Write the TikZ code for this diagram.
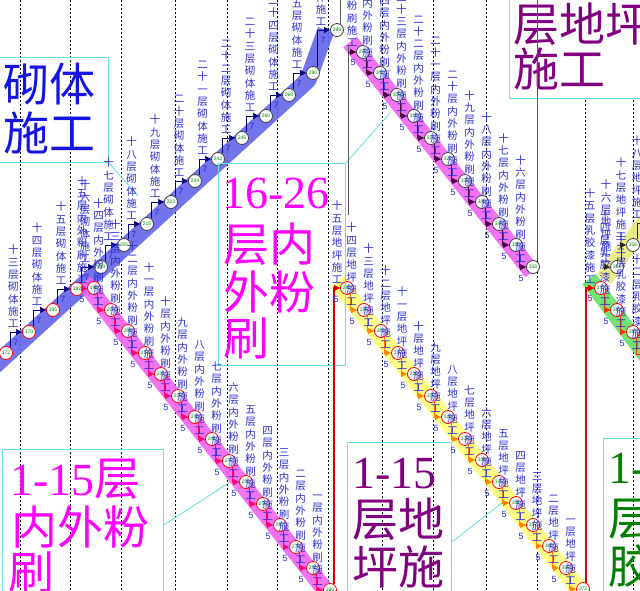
\documentclass[tikz,border=0pt]{standalone}
\usepackage{fontspec}
\setmainfont{Liberation Sans}
\newfontfamily\cjk{Noto Sans CJK SC}
\newfontfamily\lserif{Liberation Serif}
\usetikzlibrary{calc,arrows.meta,backgrounds}
\makeatletter
\newcommand\vstack[1]{%
  \edef\vs@arg{#1}%
  \gdef\vs@out{}%
  \expandafter\vs@loop\vs@arg\@nil
  \vs@out}
\def\vs@loop#1{\ifx#1\@nil\else
   \ifx\vs@out\@empty\else\g@addto@macro\vs@out{\\}\fi
   \g@addto@macro\vs@out{#1}\expandafter\vs@loop\fi}
\makeatother
\definecolor{bandB}{RGB}{100,100,235}
\definecolor{bandM}{RGB}{240,100,240}
\definecolor{bandY}{RGB}{255,255,120}
\definecolor{bandY2}{RGB}{235,235,120}
\definecolor{bandG}{RGB}{100,225,100}
\definecolor{actblue}{RGB}{45,45,210}
\definecolor{navy}{RGB}{0,0,128}
\definecolor{pinkred}{RGB}{255,0,110}
\definecolor{darkpur}{RGB}{70,0,70}
\definecolor{orng}{RGB}{255,130,0}
\definecolor{grnarrow}{RGB}{235,50,0}
\definecolor{evnum}{RGB}{0,130,0}
\definecolor{boxcyan}{RGB}{100,225,225}
\definecolor{txtmag}{RGB}{255,0,255}
\definecolor{txtpur}{RGB}{128,0,128}
\definecolor{txtgrn}{RGB}{0,128,0}
\definecolor{critred}{RGB}{225,0,0}
\definecolor{txtblue}{RGB}{20,20,230}
\tikzset{
 ev/.style={circle, fill=white, line width=0.8pt, minimum size=13pt, inner sep=0pt, font=\fontsize{5}{5}\selectfont, text=evnum},
 evr/.style={ev, draw=red},
 evk/.style={ev, draw=black!75},
 act/.style={inner sep=0pt, align=center, text=actblue, font=\cjk\fontsize{10.5}{12.3}\selectfont, anchor=south},
 dur/.style={inner sep=0pt, text=actblue, font=\fontsize{9}{9}\selectfont},
 conn/.style={line width=0.6pt, -{Triangle[length=6pt,width=6pt]}},
 band/.style={line width=17pt, line cap=butt, line join=round, draw opacity=0.9},
 gridln/.style={line width=0.5pt, dash pattern=on 2pt off 2pt, black},
 cbox/.style={draw=boxcyan, line width=0.8pt, inner sep=0pt, anchor=north west},
 lead/.style={draw=boxcyan, line width=0.8pt},
 crit/.style={draw=critred, line width=1.8pt, -{Triangle[length=6pt,width=6pt]}},
 grayl/.style={draw=black!65, line width=0.7pt},
 bigt/.style={inner sep=0pt, anchor=base west, font=\fontsize{46}{48}\selectfont},
}
\begin{document}
\begin{tikzpicture}[x=1pt,y=-1pt]
\useasboundingbox (0,0) rectangle (640,591);

% ---------------- event nodes ----------------
\foreach \n/\x/\y/\s in {172/6/353/evr,179/29/332/evr,185/53/310/evr,192/77/289/evr,199/101/267/evk,205/124/245/evk,215/147/224/evk,222/171/202/evk,234/195/181/evk,242/218/159/evk,249/242/138/evk,260/266/116/evk,269/289/95/evk,280/313/73/evk,289/337/30/evk}
  \node[\s] (b\n) at (\x,\y) {\n};
\foreach \n/\x/\y in {198/94/288,204/111/310,209/128/331,214/145/353,221/161/374,228/178/396,235/195/417,241/212/439,247/229/461,253/246/482,259/263/504,267/280/525,274/296/547,281/313/568,286/330/590}
  \node[evr] (m\n) at (\x,\y) {\n};
\foreach \n/\x/\y in {297/363/52,302/380/73,309/397/95,315/414/116,321/431/138,327/448/159,332/465/181,338/482/202,344/499/224,350/516/245,356/533/267}
  \node[evk] (u\n) at (\x,\y) {\n};
\foreach \n/\x/\y in {292/347/288,298/364/310,303/381/331,310/398/353,316/414/374,322/431/396,328/448/417,333/465/439,339/482/460,345/499/482,351/516/503,357/533/525,362/549/546,367/566/568,372/583/589}
  \node[evr] (y\n) at (\x,\y) {\n};
\foreach \n/\x/\y in {377/601/288,382/617/310,387/633/332}
  \node[evr] (g\n) at (\x,\y) {\n};
\node[evk] (v351) at (617,267) {351};
\node[evk] (v356) at (633,245) {356};

\coordinate (s3) at (348,52);
\coordinate (s6) at (603,267);
\coordinate (g393) at (650,354);
\coordinate (v362) at (650,223);
\coordinate (t1) at (340,0);
\coordinate (t2) at (537,0);
\coordinate (s3top) at (348,45);
\coordinate (s3bot) at (348,215);

% ---------------- callout boxes ----------------
\node[cbox, minimum width=110pt, minimum height=105pt] (box1) at (-2,57) {};
\node[cbox, minimum width=127pt, minimum height=202pt] (box2) at (218,163) {};
\node[cbox, minimum width=161pt, minimum height=160pt] (box3) at (2,449) {};
\node[cbox, minimum width=104pt, minimum height=160pt] (box4) at (347,442) {};
\node[cbox, minimum width=60pt, minimum height=165pt] (box5) at (603,438) {};
\node[cbox, fill=white, minimum width=150pt, minimum height=110pt] (box6) at (509,-12) {};

\node[bigt, text=txtblue] (t1a) at (3,102) {\cjk 砌体};
\node[bigt, text=txtblue] (t1b) at (3,150) {\cjk 施工};
\node[bigt, text=txtmag] (t2a) at (222,208) {\lserif 16-26};
\node[bigt, text=txtmag] (t2b) at (223,261) {\cjk 层内};
\node[bigt, text=txtmag] (t2c) at (223,309) {\cjk 外粉};
\node[bigt, text=txtmag] (t2d) at (223,355) {\cjk 刷};
\node[bigt, text=txtmag] (t3a) at (10,495) {{\lserif 1-15}{\cjk 层}};
\node[bigt, text=txtmag] (t3b) at (11,544) {\cjk 内外粉};
\node[bigt, text=txtmag] (t3c) at (8,589) {\cjk 刷};
\node[bigt, text=txtpur] (t4a) at (352,488) {\lserif 1-15};
\node[bigt, text=txtpur] (t4b) at (352,536) {\cjk 层地};
\node[bigt, text=txtpur] (t4c) at (352,584) {\cjk 坪施};
\node[bigt, text=txtgrn] (t5a) at (608,483) {\lserif 1-15};
\node[bigt, text=txtgrn] (t5b) at (608,535) {\cjk 层乳};
\node[bigt, text=txtgrn] (t5c) at (608,583) {\cjk 胶漆};
\node[bigt, text=txtpur] (t6a) at (513,42) {\cjk 层地坪};
\node[bigt, text=txtpur] (t6b) at (513,87) {\cjk 施工};

\coordinate (ld1) at (138,196);
\coordinate (ld2) at (390,113);
\coordinate (ld3) at (230,482);
\coordinate (ld4) at (502,503);
\draw[lead] (box1.south east) -- (ld1);
\draw[lead] (box2.north east) -- (ld2);
\draw[lead] ($(box3.north east)+(0,76)$) -- (ld3);
\draw[lead] ($(box4.north east)+(0,100)$) -- (ld4);

% ---------------- plain dependency lines ----------------
\draw[grayl] ($(b289)+(3,-6)$) -- (t1);
\draw[grayl] (s3top) -- (s3bot);
\draw[grayl] (t2) -- ($(u356)+(4,-6)$);

% ---------------- blue chain (masonry) ----------------
\foreach \a/\b/\f in {172/179/十三,179/185/十四,185/192/十五,192/199/十六,199/205/十七,205/215/十八,215/222/十九,222/234/二十,234/242/二十一,242/249/二十二,249/260/二十三,260/269/二十四,269/280/二十五,280/289/二十六}{
  \draw[conn,navy] ($(b\a)+(4,-6)$) |- (b\b);
  \path let \p1=(b\a),\p2=(b\b) in
    node[act] (lb\b) at ({0.5*\x1+0.5*\x2-4pt},{\y2+4pt}) {\vstack{\f 层砌体施工}}
    node[dur] (db\b) at ({\x1+10pt},{\y2-10pt}) {7};
}

% ---------------- lower magenta chain ----------------
\draw[conn,pinkred] (b192) -- (m198);
\node[act] (lm198) at (82,284) {\vstack{十五层内外粉刷施工}};
\node[dur] (dm198) at (82,299) {5};
\foreach \a/\b/\f in {198/204/十四,204/209/十三,209/214/十二,214/221/十一,221/228/十,228/235/九,235/241/八,241/247/七,247/253/六,253/259/五,259/267/四,267/274/三,274/281/二,281/286/一}{
  \draw[conn,pinkred] ($(m\a)+(3,6)$) |- (m\b);
  \path let \p1=(m\a),\p2=(m\b) in
    node[act] (lm\b) at ({0.5*\x1+0.5*\x2-4pt},{\y2+4pt}) {\vstack{\f 层内外粉刷施工}}
    node[dur] (dm\b) at ({\x1+5pt},{\y2-11pt}) {5};
}

% ---------------- upper magenta chain ----------------
\draw[conn,darkpur] (s3) -- (u297);
\node[act] (lu297) at (352,47) {\vstack{二十六层内外粉刷施工}};
\node[dur] (du297) at (353,62) {5};
\foreach \a/\b/\f in {297/302/二十五,302/309/二十四,309/315/二十三,315/321/二十二,321/327/二十一,327/332/二十,332/338/十九,338/344/十八,344/350/十七,350/356/十六}{
  \draw[conn,darkpur] ($(u\a)+(3,6)$) |- (u\b);
  \path let \p1=(u\a),\p2=(u\b) in
    node[act] (lu\b) at ({0.5*\x1+0.5*\x2-4pt},{\y2+4pt}) {\vstack{\f 层内外粉刷施工}}
    node[dur] (du\b) at ({\x1+5pt},{\y2-11pt}) {5};
}

% ---------------- yellow chain (floors 1-15) ----------------
\draw[crit] ($(m286)+(4,-6)$) |- (y292);
\node[act] (ly292) at (337,284) {\vstack{十五层地坪施工}};
\node[dur] (dy292) at (336,299) {5};
\foreach \a/\b/\f in {292/298/十四,298/303/十三,303/310/十二,310/316/十一,316/322/十,322/328/九,328/333/八,333/339/七,339/345/六,345/351/五,351/357/四,357/362/三,362/367/二,367/372/一}{
  \draw[conn,orng] ($(y\a)+(3,6)$) |- (y\b);
  \path let \p1=(y\a),\p2=(y\b) in
    node[act] (ly\b) at ({0.5*\x1+0.5*\x2-4pt},{\y2+4pt}) {\vstack{\f 层地坪施工}}
    node[dur] (dy\b) at ({\x1+5pt},{\y2-11pt}) {5};
}

% ---------------- green chain (latex paint) ----------------
\draw[crit] ($(y372)+(3,-6)$) |- (g377);
\node[act] (lg377) at (590,284) {\vstack{十五层乳胶漆施工}};
\node[dur] (dg377) at (590,298) {5};
\foreach \a/\b/\f in {377/382/十四,382/387/十三}{
  \draw[conn,grnarrow] ($(g\a)+(3,6)$) |- (g\b);
  \path let \p1=(g\a),\p2=(g\b) in
    node[act] (lg\b) at ({0.5*\x1+0.5*\x2-4pt},{\y2+4pt}) {\vstack{\f 层乳胶漆施工}}
    node[dur] (dg\b) at ({\x1+5pt},{\y2-11pt}) {5};
}
\draw[conn,grnarrow] ($(g387)+(3,6)$) |- (g393);
\node[act] (lg393) at (637,350) {\vstack{十二层乳胶漆施工}};

% ---------------- upper yellow chain (floors 16-26) ----------------
\draw[conn,black!85] (s6) -- (v351);
\node[act] (lv351) at (606,263) {\vstack{十六层地坪施工}};
\draw[conn,black!85] ($(v351)+(4,-6)$) |- (v356);
\node[act] (lv356) at (621,241) {\vstack{十七层地坪施工}};
\draw[conn,black!85] ($(v356)+(4,-6)$) |- (v362);
\node[act] (lv362) at (637,219) {\vstack{十八层地坪施工}};

% ---------------- background: grid and bands ----------------
\begin{pgfonlayer}{background}
\fill[white] (0,0) rectangle (640,591);
\foreach \gx in {20,70,121,175,227,277,328,382,433,486,537,585,633}
  \draw[gridln] (\gx,0) -- (\gx,591);
\draw[band,bandB] (-10,370) -- (308,80) -- (326,30);
\draw[band,bandM] (84,282) -- (333,600);
\draw[band,bandM] (350,42) -- (532,272);
\draw[band,bandY] (337,281) -- (588,601);
\draw[band,bandG] (589,279) -- (655,367);
\draw[band,bandY2] (604,279) -- (648,218);
\end{pgfonlayer}
\end{tikzpicture}
\end{document}
